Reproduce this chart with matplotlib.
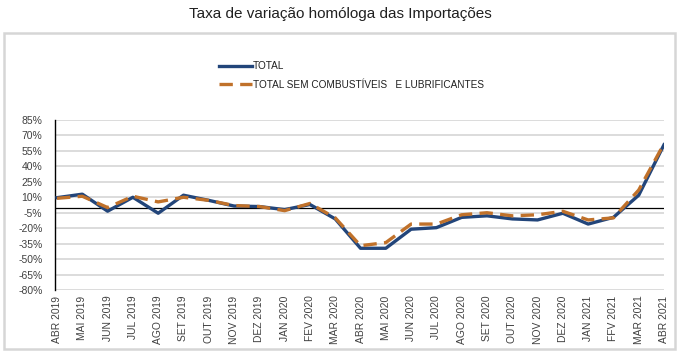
"""Taxa de variação homóloga das Importações - total vs sem combustíveis."""

import matplotlib.pyplot as plt
from matplotlib.patches import Rectangle

months = [
    "ABR 2019", "MAI 2019", "JUN 2019", "JUL 2019", "AGO 2019", "SET 2019",
    "OUT 2019", "NOV 2019", "DEZ 2019", "JAN 2020", "FEV 2020", "MAR 2020",
    "ABR 2020", "MAI 2020", "JUN 2020", "JUL 2020", "AGO 2020", "SET 2020",
    "OUT 2020", "NOV 2020", "DEZ 2020", "JAN 2021", "FFV 2021", "MAR 2021",
    "ABR 2021",
]
total = [
    9.6, 13, -3.5, 10, -5.5, 12, 7, 1.5, 1, -2, 3, -11,
    -39.5, -39.5, -21, -19.5, -9.5, -8, -11, -12, -5.5, -16, -9.5, 12, 61,
]
sem_combustiveis = [
    9, 11, 0, 11, 5.5, 10, 7, 2, 1, -3, 4, -10,
    -37, -34, -16, -16, -7, -5, -8, -7, -3.6, -12, -10, 17, 62,
]
y_ticks = list(range(-80, 86, 15))

BLUE = "#22457a"
ORANGE = "#c0712a"
TEXT = "#404040"

plt.rcParams["font.family"] = ["Liberation Sans", "DejaVu Sans"]

fig = plt.figure(figsize=(6.8, 3.57), dpi=100)
# light grey chart-area border
fig.patches.append(Rectangle((4 / 680, 8 / 357), 671 / 680, 316 / 357,
                             transform=fig.transFigure, fill=False,
                             edgecolor="#d6d6d6", linewidth=1.8))

ax = fig.add_axes([55 / 680, 67 / 357, 609 / 680, 170 / 357])
x = list(range(len(months)))

ax.plot(x, total, color=BLUE, linewidth=2.4, label="TOTAL", zorder=3)
ax.plot(x, sem_combustiveis, color=ORANGE, linewidth=2.4, dashes=(4, 2.2),
        label="TOTAL SEM COMBUSTÍVEIS   E LUBRIFICANTES", zorder=4)

ax.set_xlim(-0.08, len(months) - 1)
ax.set_ylim(-80, 85)
ax.set_yticks(y_ticks)
ax.set_yticklabels([f"{t}%" for t in y_ticks], color=TEXT, fontsize=7.5)
ax.set_xticks(x)
ax.set_xticklabels(months, rotation=90, color=TEXT, fontsize=7.4)
ax.tick_params(length=0)
ax.tick_params(axis="y", pad=9)
ax.tick_params(axis="x", pad=4)
ax.grid(axis="y", color="#d9d9d9", linewidth=1.3)
ax.set_axisbelow(True)
ax.axhline(0, color="black", linewidth=0.9, zorder=2)
for side in ("top", "right", "bottom"):
    ax.spines[side].set_visible(False)
ax.spines["left"].set_color("black")
ax.spines["left"].set_linewidth(1.0)

fig.legend(loc="upper left", bbox_to_anchor=(210 / 680, 1 - 52 / 357),
           frameon=False, fontsize=7.2, handlelength=3.3, handletextpad=0.1,
           labelspacing=0.85, labelcolor="#202020")

fig.text(0.5, 1 - 14 / 357, "Taxa de variação homóloga das Importações",
         ha="center", va="center", fontsize=11, color="#202020")

fig.savefig("out.png", dpi=100)
